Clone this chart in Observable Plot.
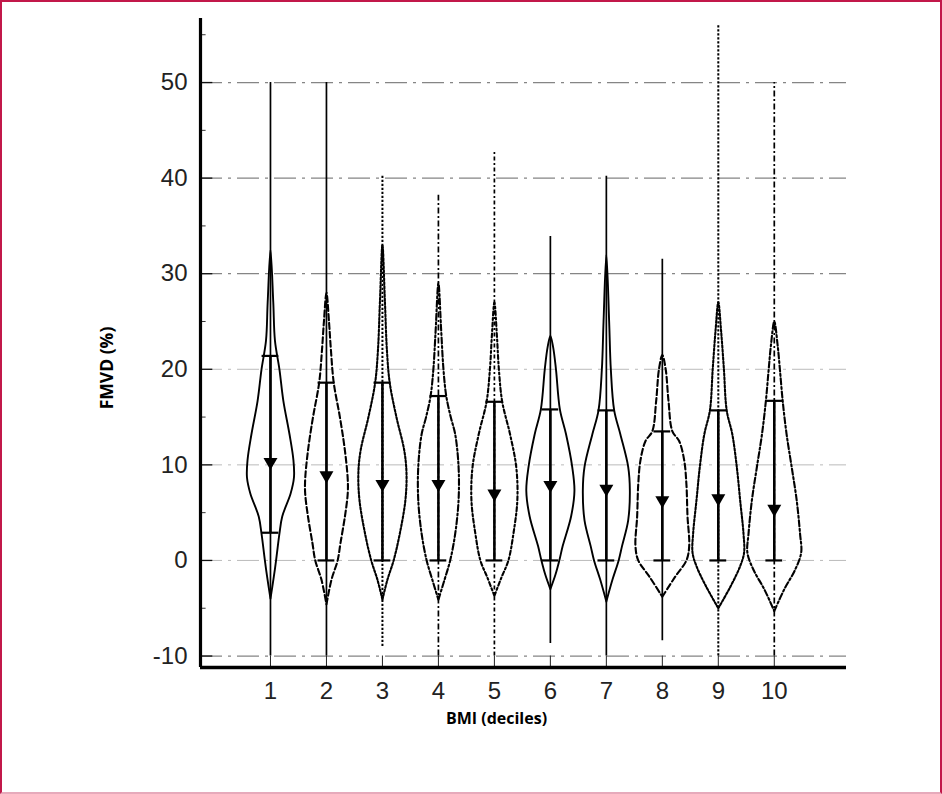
<!DOCTYPE html>
<html>
<head>
<meta charset="utf-8">
<script src="https://cdn.jsdelivr.net/npm/d3@7"></script>
<script src="https://cdn.jsdelivr.net/npm/@observablehq/plot@0.6"></script>
<style>
  body { margin: 0; background: #fff; }
  #wrap { position: relative; width: 942px; height: 794px; overflow: hidden; background: #fff; }
  #border { position: absolute; left: 0; top: 0; width: 942px; height: 794px; box-sizing: border-box;
            border: 2px solid #c2184a; border-bottom-color: #e6aabb; pointer-events: none; }
</style>
</head>
<body>
<div id="wrap"><div id="border"></div></div>
<script>
// ---- data ----
const deciles  = [1, 2, 3, 4, 5, 6, 7, 8, 9, 10];
const maxVals  = [50, 50, 40.2, 38.2, 42.7, 33.9, 40.2, 31.5, 56, 50];
const minVals  = [-10, -10, -9, -10, -10, -8.7, -10, -8.4, -10, -10];
const q1Vals   = [2.9, 0, 0, 0, 0, 0, 0, 0, 0, 0];
const q3Vals   = [21.4, 18.6, 18.6, 17.2, 16.6, 15.8, 15.7, 13.5, 15.7, 16.7];
const meanVals = [10.3, 8.9, 8.0, 8.0, 7.0, 7.9, 7.5, 6.3, 6.5, 5.4];
const yTicks   = [-10, 0, 10, 20, 30, 40, 50];
const yMinor   = [-5, 5, 15, 25, 35, 45, 55];
// density profiles: [FMVD value, half-width in x units]
const densityProfiles = [
  [[-4,0],[-1.7,.06],[0,.10],[2.8,.16],[4.6,.21],[7,.36],[8.7,.42],[10.5,.41],[13.2,.34],[16.7,.23],[20,.16],[23,.08],[27,.05],[32.5,0]],
  [[-4.6,0],[-2,.09],[0,.20],[1.8,.25],[4.6,.33],[7,.38],[8.5,.38],[11.5,.33],[15,.24],[18.6,.13],[22,.08],[25,.045],[28,0]],
  [[-4.1,0],[-2,.09],[0,.20],[2.8,.31],[6.3,.41],[9.1,.43],[11.5,.39],[15,.25],[18.6,.13],[22,.08],[27,.045],[33,0]],
  [[-4.1,0],[-2,.11],[0,.21],[2.8,.30],[6.3,.36],[9.8,.36],[13.2,.30],[15,.22],[17.2,.14],[20,.09],[24,.05],[29,0]],
  [[-3.7,0],[-1.8,.125],[0,.25],[2.8,.34],[6.3,.41],[9.8,.39],[13.2,.28],[16.6,.14],[20,.08],[23.5,.045],[27,0]],
  [[-3,0],[-1.5,.09],[0,.16],[1.5,.22],[4.6,.37],[7.3,.43],[9.8,.39],[13.2,.28],[15.8,.17],[20,.10],[22.3,.05],[23.5,0]],
  [[-4.3,0],[-2,.11],[0,.22],[1.5,.28],[4.2,.39],[7.3,.42],[9.8,.39],[13.2,.25],[15.7,.14],[20,.08],[25,.05],[32,0]],
  [[-3.8,0],[-1.7,.23],[0,.43],[1.5,.48],[4.6,.45],[8,.43],[10.5,.39],[12.5,.30],[13.5,.18],[16.7,.11],[20,.06],[21.5,0]],
  [[-5,0],[-2.7,.22],[-0.6,.39],[0.8,.46],[2.8,.45],[6.3,.39],[9.8,.33],[13.2,.25],[15.7,.15],[20,.10],[24,.05],[27,0]],
  [[-5.3,0],[-3,.18],[-1,.37],[0.8,.48],[2.8,.46],[6.3,.40],[9.8,.31],[13.2,.22],[16.7,.15],[20,.10],[22.5,.06],[25,0]]
];

// ---- styling ----
const xDomain = [-0.25, 11.29];
const yDomain = [-11.2, 56.7];
const DASH = { solid: null, dashed: "6,3", dotted: "2.2,1.8", dashdot: "6,2.5,2,2.5", dashdot2: "4,2.5,2,2.5" };
const outlineStyle = ["solid","dashed","dotted","dashdot","dashdot2","solid","solid","dashed","dotted","dashdot"];
const rangeStyle   = ["solid","solid","dotted","dashdot","dashdot2","solid","solid","solid","dotted","dashdot"];
const capHalf = 0.15;
const fontNum = "Liberation Sans, Arial, sans-serif";
const fontTitle = "Open Sans, Noto Sans, sans-serif";

const stats = deciles.map((c, i) => ({
  c, min: minVals[i], max: maxVals[i], q1: q1Vals[i], q3: q3Vals[i], mean: meanVals[i]
}));

function outline(i) {
  const c = deciles[i];
  const p = densityProfiles[i];
  const right = p.map(([v, d]) => ({x: c + d, y: v}));
  const left = p.slice(0, -1).reverse().map(([v, d]) => ({x: c - d, y: v}));
  return right.concat(left);
}

const marks = [];
// grid lines
marks.push(Plot.ruleY(yTicks.filter(t => t >= 30 || t === -10), {y: d => d, stroke: "#333", strokeOpacity: 0.6, strokeWidth: 1.2, strokeDasharray: "22,6,3,6"}));
marks.push(Plot.ruleY(yTicks.filter(t => t < 30 && t > -10), {y: d => d, stroke: "#777", strokeOpacity: 0.5, strokeWidth: 1, strokeDasharray: "22,6,3,6"}));
// y ticks (inward)
marks.push(Plot.ruleY(yTicks, {y: d => d, x1: xDomain[0], x2: xDomain[0] + 0.22, stroke: "#111", strokeWidth: 1.3}));
marks.push(Plot.ruleY(yMinor, {y: d => d, x1: xDomain[0], x2: xDomain[0] + 0.1, stroke: "#333", strokeWidth: 1}));
// x ticks (inward)
marks.push(Plot.ruleX(deciles, {x: d => d, y1: yDomain[0], y2: yTicks[0], stroke: "#222", strokeWidth: 1}));

deciles.forEach((c, i) => {
  const dotted = rangeStyle[i] === "dotted";
  marks.push(Plot.ruleX([stats[i]], {x: "c", y1: "min", y2: "max", stroke: "#000", strokeWidth: dotted ? 2 : 1.7, strokeDasharray: DASH[rangeStyle[i]]}));
  marks.push(Plot.line(outline(i), {x: "x", y: "y", curve: "catmull-rom", stroke: "#000", strokeWidth: outlineStyle[i] === "solid" ? 1.9 : 2.1, strokeDasharray: DASH[outlineStyle[i]]}));
});
// interquartile bar with caps
marks.push(Plot.ruleX(stats, {x: "c", y1: "q1", y2: "q3", stroke: "#000", strokeWidth: 2.6}));
marks.push(Plot.ruleY(stats, {y: "q3", x1: d => d.c - capHalf, x2: d => d.c + capHalf, stroke: "#000", strokeWidth: 2.2}));
marks.push(Plot.ruleY(stats, {y: "q1", x1: d => d.c - capHalf, x2: d => d.c + capHalf, stroke: "#000", strokeWidth: 2.2}));
// means
marks.push(Plot.dot(stats, {x: "c", y: "mean", symbol: "triangle", r: 5.2, fill: "#000", stroke: "none", rotate: 180}));
// axis lines
marks.push(Plot.ruleX([xDomain[0]], {stroke: "#000", strokeWidth: 3.2}));
marks.push(Plot.ruleY([yDomain[0]], {stroke: "#000", strokeWidth: 3.5}));
// tick labels
marks.push(Plot.axisY({ticks: yTicks, tickSize: 0, tickPadding: 13, fontSize: 24, fontFamily: fontNum, fill: "#222", label: null, tickFormat: d => String(d)}));
marks.push(Plot.axisX({ticks: deciles, tickSize: 0, tickPadding: 14, fontSize: 24, fontFamily: fontNum, fill: "#222", label: null, tickFormat: d => String(d)}));
// axis titles
marks.push(Plot.text(["BMI (deciles)"], {frameAnchor: "bottom", textAnchor: "middle", lineAnchor: "middle", dx: -27, dy: 51, fontSize: 16, fontWeight: 700, fontFamily: fontTitle, fill: "#000"}));
marks.push(Plot.text(["FMVD (%)"], {frameAnchor: "left", textAnchor: "middle", lineAnchor: "middle", dx: -93, dy: 25, rotate: -90, fontSize: 17.5, fontWeight: 700, fontFamily: fontTitle, fill: "#000"}));

const chart = Plot.plot({
  width: 942,
  height: 794,
  marginLeft: 200,
  marginRight: 96,
  marginTop: 18,
  marginBottom: 127,
  x: {domain: xDomain, axis: null},
  y: {domain: yDomain, axis: null},
  style: {background: "#fff", overflow: "visible"},
  marks
});
document.getElementById("wrap").insertBefore(chart, document.getElementById("border"));
</script>
</body>
</html>
